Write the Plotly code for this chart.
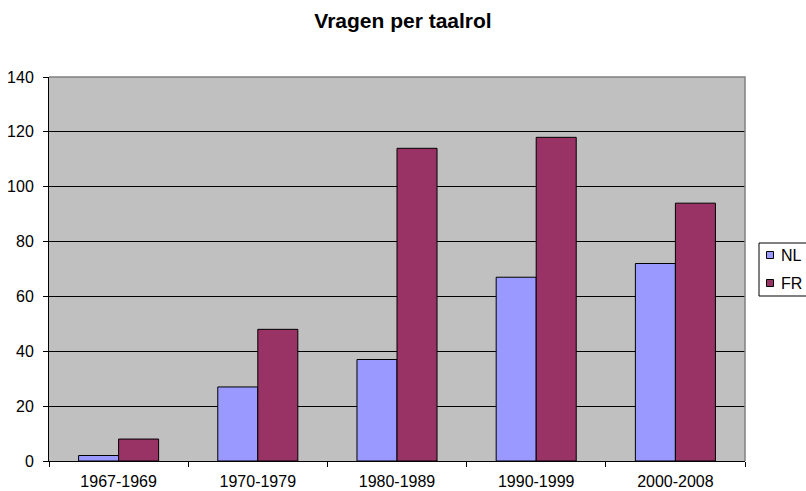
import plotly.graph_objects as go

categories = ["1967-1969", "1970-1979", "1980-1989", "1990-1999", "2000-2008"]
series_names = ["NL", "FR"]
nl_values = [2, 27, 37, 67, 72]
fr_values = [8, 48, 114, 118, 94]
series_colors = ["#9999FF", "#993366"]
y_ticks = [0, 20, 40, 60, 80, 100, 120, 140]

W, H = 806, 491
L, R, T, B = 49, 61, 77, 30
PW, PH = W - L - R, H - T - B

def px_x(px):
    return (px - L) / PW

def px_y(py):
    return (H - B - py) / PH

fig = go.Figure()
for name, vals, col in zip(series_names, [nl_values, fr_values], series_colors):
    fig.add_trace(go.Bar(name=name, x=categories, y=vals, showlegend=False,
                         marker=dict(color=col, line=dict(color="black", width=1))))

fig.update_layout(
    width=W, height=H,
    margin=dict(l=L, r=R, t=T, b=B, autoexpand=False),
    paper_bgcolor="white",
    plot_bgcolor="#C0C0C0",
    barmode="group", bargap=0.425, bargroupgap=0,
    font=dict(family="Liberation Sans, Arial, sans-serif", size=16, color="black"),
    title=dict(text="<b>Vragen per taalrol</b>", x=403 / W, xref="container", xanchor="center",
               y=1 - 21 / H, yref="container", yanchor="middle",
               font=dict(size=21, family="Liberation Sans, Arial, sans-serif")),
    showlegend=False,
)
fig.update_xaxes(showline=True, linecolor="black", linewidth=1, ticks="outside",
                 tickson="boundaries", ticklen=5, tickcolor="black", showgrid=False,
                 tickfont=dict(size=16), automargin=False, ticklabelstandoff=6)
fig.update_yaxes(range=[0, 140], tickvals=y_ticks, showline=True, linecolor="black", linewidth=1,
                 ticks="outside", ticklen=5, tickcolor="black", showgrid=True,
                 gridcolor="black", gridwidth=1, zeroline=False, tickfont=dict(size=16),
                 automargin=False, ticklabelstandoff=6)
# plot area border (grey top and right edges)
fig.add_shape(type="path", xref="paper", yref="paper", path="M 0 1 L 1 1 L 1 0",
              line=dict(color="#808080", width=1.5), layer="above")

# legend (drawn manually to match the reference's compact layout)
fig.add_shape(type="rect", xref="paper", yref="paper",
              x0=px_x(759), x1=px_x(815), y0=px_y(296), y1=px_y(243),
              line=dict(color="black", width=1), fillcolor="white")
legend_rows = [255, 283]
for name, col, cy in zip(series_names, series_colors, legend_rows):
    fig.add_shape(type="rect", xref="paper", yref="paper",
                  x0=px_x(766.5), x1=px_x(773.5), y0=px_y(cy + 3.5), y1=px_y(cy - 3.5),
                  line=dict(color="black", width=1), fillcolor=col)
    fig.add_annotation(text=name, xref="paper", yref="paper", x=px_x(779), y=px_y(cy),
                       xanchor="left", yanchor="middle", showarrow=False,
                       font=dict(size=16, family="Liberation Sans, Arial, sans-serif"))

fig.write_html("out.html", config={"displayModeBar": False},
               post_script="document.body.style.margin='0px';")
